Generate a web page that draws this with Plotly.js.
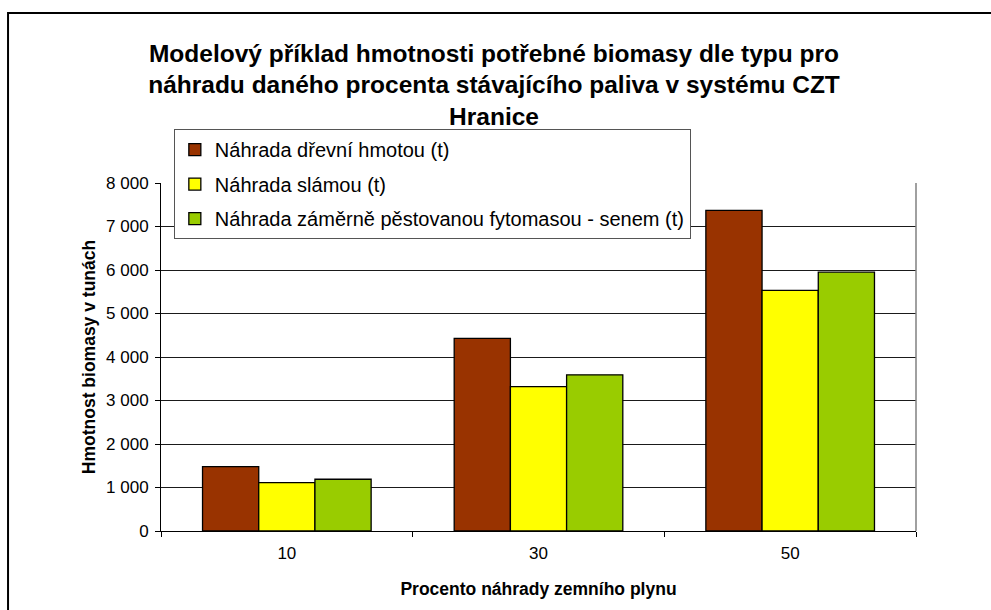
<!DOCTYPE html>
<html>
<head>
<meta charset="utf-8">
<script src="https://cdn.plot.ly/plotly-3.0.1.min.js"></script>
<style>
html,body{margin:0;padding:0;background:#fff;}
#chart{width:991px;height:610px;}
</style>
</head>
<body>
<div id="chart"></div>
<script>
const categories = ["10", "30", "50"];
const seriesNames = [
  "Náhrada dřevní hmotou (t)",
  "Náhrada slámou (t)",
  "Náhrada záměrně pěstovanou fytomasou - senem (t)"
];
const woodValues = [1480, 4430, 7370];
const strawValues = [1110, 3320, 5530];
const hayValues = [1190, 3590, 5950];
const seriesColors = ["#993300", "#FFFF00", "#99CC00"];
const yTicks = [0, 1000, 2000, 3000, 4000, 5000, 6000, 7000, 8000];

const FONT = "Liberation Sans, Arial, sans-serif";
const allValues = [woodValues, strawValues, hayValues];

const traces = allValues.map((vals, i) => ({
  type: "bar",
  name: seriesNames[i],
  legendgroup: "g" + i,
  x: categories,
  y: vals,
  marker: {color: seriesColors[i], line: {color: "#000000", width: 1.3}},
  hoverinfo: "y"
}));

const layout = {
  width: 991,
  height: 610,
  paper_bgcolor: "#ffffff",
  plot_bgcolor: "#ffffff",
  separators: ", ",
  margin: {l: 161, r: 75, t: 183, b: 79},
  barmode: "group",
  bargap: 0.33,
  bargroupgap: 0,
  font: {family: FONT, size: 17, color: "#000"},
  title: {
    text: "Modelový příklad hmotnosti potřebné biomasy dle typu pro<br>náhradu daného procenta stávajícího paliva v systému CZT<br>Hranice",
    font: {family: FONT, size: 24.5, color: "#000", weight: "bold"},
    x: 0.4985, xref: "container", xanchor: "center",
    y: 0.899, yref: "container", yanchor: "top"
  },
  xaxis: {
    type: "category",
    tickson: "boundaries",
    ticks: "outside",
    ticklen: 5,
    tickcolor: "#000",
    ticklabelstandoff: 7,
    showline: true,
    linecolor: "#000",
    linewidth: 1,
    showgrid: false,
    tickfont: {family: FONT, size: 17},
    title: {text: "Procento náhrady zemního plynu", font: {family: FONT, size: 17.5, weight: "bold"}, standoff: 20}
  },
  yaxis: {
    range: [0, 8000],
    tickvals: yTicks,
    ticks: "outside",
    ticklen: 5,
    tickcolor: "#000",
    ticklabelstandoff: 3,
    separatethousands: true,
    showline: true,
    linecolor: "#000",
    linewidth: 1,
    showgrid: true,
    gridcolor: "#1a1a1a",
    gridwidth: 1,
    zeroline: false,
    tickfont: {family: FONT, size: 17},
    title: {text: "Hmotnost biomasy v tunách", font: {family: FONT, size: 17.5, weight: "bold"}, standoff: 5}
  },
  legend: {
    x: 0.017, xanchor: "left",
    y: 1.155, yanchor: "top",
    bgcolor: "#ffffff",
    bordercolor: "#555",
    borderwidth: 1,
    font: {family: FONT, size: 20, color: "#000"},
    tracegroupgap: 5.5
  },
  shapes: [
    {type: "line", xref: "paper", yref: "paper", x0: 1, x1: 1, y0: 0, y1: 1, line: {color: "#808080", width: 1.5}},
    {type: "rect", xref: "paper", yref: "paper", x0: -0.2026, x1: 1.2, y0: -0.3, y1: 1.4885, line: {color: "#000", width: 2}, fillcolor: "rgba(0,0,0,0)"}
  ],
  showlegend: true
};

Plotly.newPlot("chart", traces, layout, {displayModeBar: false, staticPlot: true});
</script>
</body>
</html>
